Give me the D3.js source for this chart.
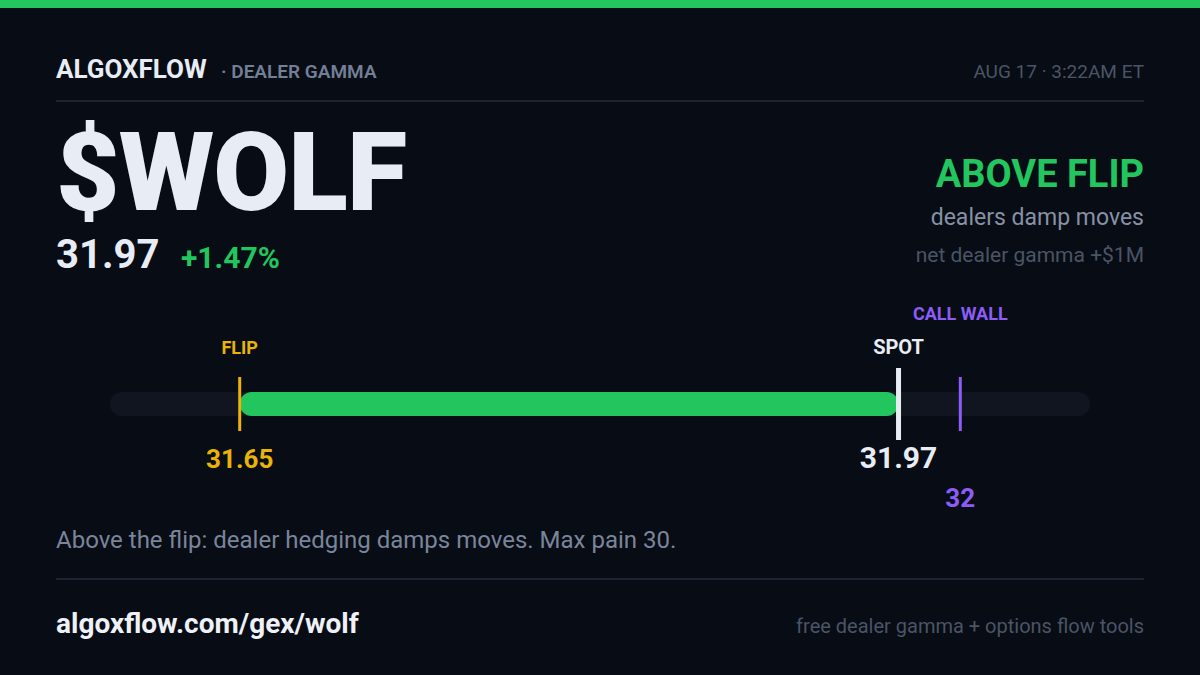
<!DOCTYPE html>
<html>
<head>
<meta charset="utf-8">
<script src="https://cdn.jsdelivr.net/npm/d3@7"></script>
<style>
  html, body { margin: 0; padding: 0; background: #080c14; }
  svg { display: block; font-family: Roboto, "Noto Sans", sans-serif; }
</style>
</head>
<body>
<svg width="1200" height="675"></svg>
<script>
// data
const ticker = '$WOLF';
const spotPrice = 31.97;
const changePct = 1.47;
const levelNames = ['FLIP', 'SPOT', 'CALL WALL'];
const levelValues = [31.65, 31.97, 32];
const maxPain = 30;
const netGamma = '+$1M';

const svg = d3.select('svg');
const width = +svg.attr('width');
const height = +svg.attr('height');
const left = 56, right = 1144;

const green = '#22c55e';
const colors = { 'FLIP': '#eab308', 'SPOT': '#e8ecf4', 'CALL WALL': '#8b5cf6' };

svg.append('rect').attr('width', width).attr('height', height).attr('fill', '#080c14');
svg.append('rect').attr('width', width).attr('height', 8).attr('fill', green);

// header
svg.append('text').attr('x', left).attr('y', 78)
   .attr('font-size', 26).attr('font-weight', 700).attr('fill', '#e8ecf4')
   .text('ALGOXFLOW');
svg.append('text').attr('x', 221).attr('y', 78)
   .attr('font-size', 19).attr('font-weight', 600).attr('fill', '#737f96')
   .text('· DEALER GAMMA');
svg.append('text').attr('x', right).attr('y', 78).attr('text-anchor', 'end')
   .attr('font-size', 19).attr('fill', '#4b5466')
   .text('AUG 17 · 3:22AM ET');
svg.append('rect').attr('x', left).attr('y', 100).attr('width', right - left).attr('height', 2).attr('fill', '#1c2230');

// ticker + price
svg.append('text').attr('x', 56).attr('y', 210)
   .attr('font-size', 110).attr('font-weight', 900).attr('fill', '#e8ecf4')
   .attr('letter-spacing', -1)
   .text(ticker);
svg.append('text').attr('x', left).attr('y', 268)
   .attr('font-size', 40).attr('font-weight', 700).attr('fill', '#e8ecf4')
   .text(spotPrice.toFixed(2));
svg.append('text').attr('x', 181).attr('y', 268)
   .attr('font-size', 30).attr('font-weight', 700).attr('fill', green)
   .text('+' + changePct.toFixed(2) + '%');

// regime
svg.append('text').attr('x', right).attr('y', 187).attr('text-anchor', 'end')
   .attr('font-size', 38).attr('font-weight', 700).attr('fill', green)
   .text('ABOVE FLIP');
svg.append('text').attr('x', right).attr('y', 225).attr('text-anchor', 'end')
   .attr('font-size', 23).attr('fill', '#8791a6')
   .text('dealers damp moves');
svg.append('text').attr('x', right).attr('y', 262).attr('text-anchor', 'end')
   .attr('font-size', 21).attr('fill', '#4b5466')
   .text('net dealer gamma ' + netGamma);

// level bar
const lo = d3.min(levelValues), hi = d3.max(levelValues);
const pad = (hi - lo) * 0.18;
const x = d3.scaleLinear().domain([lo - pad, hi + pad]).range([110, 1090]);
const barY = 404;

const g = svg.append('g');
g.append('rect')
   .attr('x', x.range()[0]).attr('y', barY - 12)
   .attr('width', x.range()[1] - x.range()[0]).attr('height', 24)
   .attr('rx', 12).attr('fill', '#10151f');

const flip = levelValues[levelNames.indexOf('FLIP')];
g.append('rect')
   .attr('x', x(Math.min(flip, spotPrice))).attr('y', barY - 12)
   .attr('width', Math.abs(x(spotPrice) - x(flip))).attr('height', 24)
   .attr('rx', 12).attr('fill', spotPrice >= flip ? green : '#ef4444');

const levels = levelNames.map((name, i) => ({ name, value: levelValues[i] }));
const isSpot = d => d.name === 'SPOT';
const isWall = d => d.name === 'CALL WALL';

g.selectAll('.tick-line').data(levels).enter().append('rect')
   .attr('class', 'tick-line')
   .attr('x', d => x(d.value) - (isSpot(d) ? 2.5 : 1.5))
   .attr('y', d => barY - (isSpot(d) ? 36 : 27))
   .attr('width', d => isSpot(d) ? 5 : 3)
   .attr('height', d => isSpot(d) ? 72 : 54)
   .attr('fill', d => colors[d.name]);

g.selectAll('.lvl-name').data(levels).enter().append('text')
   .attr('class', 'lvl-name')
   .attr('x', d => x(d.value))
   .attr('y', d => isWall(d) ? 320 : 354)
   .attr('text-anchor', 'middle')
   .attr('font-size', d => isSpot(d) ? 20 : 18)
   .attr('font-weight', 700)
   .attr('fill', d => colors[d.name])
   .text(d => d.name);

g.selectAll('.lvl-val').data(levels).enter().append('text')
   .attr('class', 'lvl-val')
   .attr('x', d => x(d.value))
   .attr('y', d => isWall(d) ? 507 : 468)
   .attr('text-anchor', 'middle')
   .attr('font-size', d => isSpot(d) ? 30 : 26)
   .attr('font-weight', 700)
   .attr('fill', d => colors[d.name])
   .text(d => d.value);

// caption
svg.append('text').attr('x', left).attr('y', 548)
   .attr('font-size', 24).attr('fill', '#7a859b')
   .text('Above the flip: dealer hedging damps moves. Max pain ' + maxPain + '.');
svg.append('rect').attr('x', left).attr('y', 578).attr('width', right - left).attr('height', 2).attr('fill', '#1c2230');

// footer
svg.append('text').attr('x', left).attr('y', 633)
   .attr('font-size', 28).attr('font-weight', 700).attr('fill', '#eef1f7')
   .text('algoxflow.com/gex/wolf');
svg.append('text').attr('x', right).attr('y', 633).attr('text-anchor', 'end')
   .attr('font-size', 20).attr('fill', '#4b5466')
   .text('free dealer gamma + options flow tools');
</script>
</body>
</html>
